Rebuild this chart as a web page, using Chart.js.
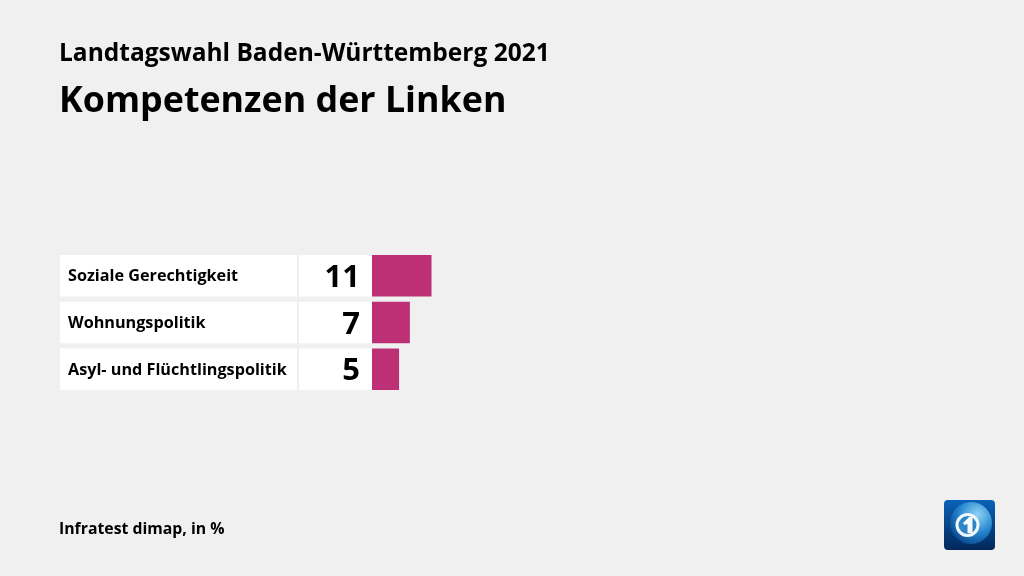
<!DOCTYPE html>
<html lang="de"><head><meta charset="utf-8">
<script src="https://cdn.jsdelivr.net/npm/chart.js@4"></script>
<style>
html,body{margin:0;padding:0;background:#f0f0f0;width:1024px;height:576px;overflow:hidden}
body{position:relative;font-family:"Open Sans",sans-serif;color:#000}
#c{position:absolute;left:0;top:0;width:1024px;height:576px}
.t{position:absolute;left:59px;white-space:nowrap;font-weight:700}
#t1{top:35px;font-size:24.500px;line-height:34px}
#t2{top:71px;font-size:35.800px;line-height:54px}
#f{top:517px;font-size:15.800px;line-height:22px}
#logo{position:absolute;left:944px;top:500px;width:51px;height:50px}
</style></head><body>
<canvas id="c" width="1024" height="576"></canvas>
<div class="t" id="t1">Landtagswahl Baden-Württemberg 2021</div>
<div class="t" id="t2">Kompetenzen der Linken</div>
<div class="t" id="f">Infratest dimap, in %</div>
<svg id="logo" viewBox="0 0 51 50">
<defs>
<linearGradient id="bg" x1="0" y1="0" x2="0" y2="1"><stop offset="0" stop-color="#0a62b8"/><stop offset="1" stop-color="#02285a"/></linearGradient>
<radialGradient id="gl" cx="0.65" cy="0.3" r="0.75"><stop offset="0" stop-color="#8fd3f4"/><stop offset="0.55" stop-color="#2a8ad0"/><stop offset="1" stop-color="#0a4a92"/></radialGradient>
</defs>
<rect width="51" height="50" rx="4" fill="url(#bg)"/>
<circle cx="27" cy="23" r="21" fill="url(#gl)"/>
<circle cx="23.500" cy="25" r="10.500" fill="#2f86c6" stroke="#f0f8fc" stroke-width="3"/>
<path d="M19 23l6-6h3.500v16h-5v-9l-3 1z" fill="#f4fafd"/>
</svg>
<script>
const categories = ["Soziale Gerechtigkeit", "Wohnungspolitik", "Asyl- und Flüchtlingspolitik"];
const values = [11, 7, 5];
const barColor = "#bd3075";

const rows = {
  id: "rows",
  beforeDatasetsDraw(chart) {
    const { ctx } = chart;
    const y = chart.scales.y, x = chart.scales.x;
    const bar = chart.getDatasetMeta(0).data;
    ctx.save();
    categories.forEach((name, i) => {
      const yc = y.getPixelForValue(i);
      const h = bar[i].height;
      const top = yc - h / 2;
      ctx.fillStyle = "#ffffff";
      ctx.fillRect(60, top, 237, h);
      ctx.fillRect(299, top, x.getPixelForValue(0) - 299, h);
      ctx.fillStyle = "#000000";
      ctx.textBaseline = "middle";
      ctx.textAlign = "left";
      ctx.font = '700 16.200px "Open Sans"';
      ctx.fillText(name, 68, yc + 0.8);
      ctx.textAlign = "right";
      ctx.font = '700 31px "Open Sans"';
      ctx.fillText(String(values[i]), 360, yc + 2.500);
    });
    ctx.restore();
  }
};

new Chart(document.getElementById("c"), {
  type: "bar",
  data: {
    labels: categories,
    datasets: [{ data: values, backgroundColor: barColor, borderWidth: 0,
      categoryPercentage: 1, barPercentage: 0.89 }]
  },
  options: {
    indexAxis: "y",
    responsive: false,
    animation: false,
    devicePixelRatio: 1,
    layout: { padding: { left: 372, right: 1024 - 913, top: 252.5, bottom: 576 - 392.5 } },
    plugins: { legend: { display: false }, tooltip: { enabled: false }, title: { display: false } },
    scales: {
      x: { display: false, min: 0, max: 100 },
      y: { display: false }
    }
  },
  plugins: [rows]
});
</script>
</body></html>
